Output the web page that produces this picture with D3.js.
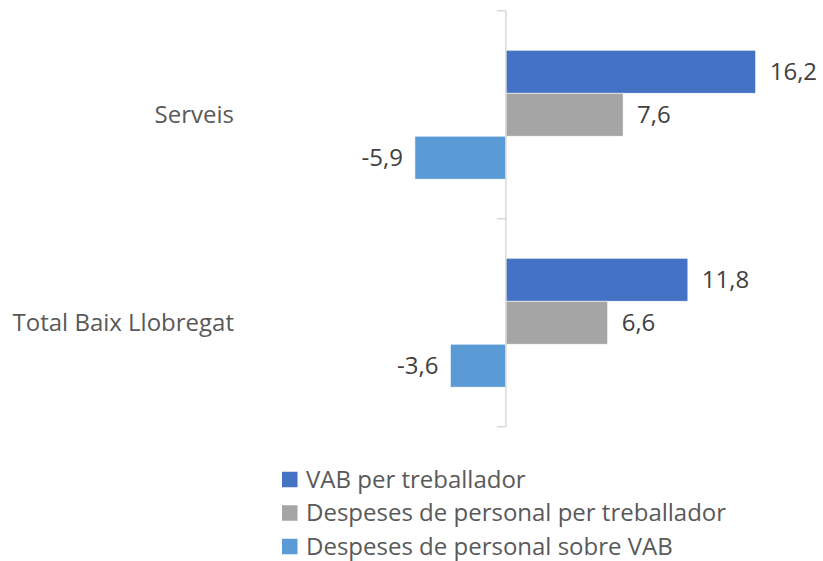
<!DOCTYPE html>
<html>
<head>
<meta charset="utf-8">
<script src="https://cdn.jsdelivr.net/npm/d3@7"></script>
<style>
  html, body { margin: 0; padding: 0; background: #fff; }
  svg { display: block; }
  text { font-family: "Open Sans", sans-serif; font-size: 24px; }
</style>
</head>
<body>
<svg id="chart" width="823" height="561"></svg>
<script>
// Categories and series
const categories = ["Serveis", "Total Baix Llobregat"];
const seriesNames = ["VAB per treballador", "Despeses de personal per treballador", "Despeses de personal sobre VAB"];
const vabPerWorker = [16.2, 11.8];
const staffCostPerWorker = [7.6, 6.6];
const staffCostOverVab = [-5.9, -3.6];
const seriesColors = ["#4472C4", "#A5A5A5", "#5B9BD5"];

const seriesValues = [vabPerWorker, staffCostPerWorker, staffCostOverVab];
const rows = [];
categories.forEach((c, ci) => {
  seriesNames.forEach((s, si) => {
    rows.push({ category: c, series: s, value: seriesValues[si][ci], color: seriesColors[si] });
  });
});

const locale = d3.formatLocale({ decimal: ",", thousands: ".", grouping: [3], currency: ["", " €"], minus: "-" });
const fmt = locale.format(".1f");

const svg = d3.select("#chart");

// Scales
const x = d3.scaleLinear().domain([-10, 20]).range([351.7, 814.3]);
const y0 = d3.scaleBand().domain(categories).range([10.7, 426.7]).padding(0);
const y1 = d3.scaleBand().domain(seriesNames).range([0, y0.bandwidth()]).paddingInner(0).paddingOuter(0.92);

// Bars
const groups = svg.append("g").selectAll("g")
  .data(categories)
  .join("g")
  .attr("transform", d => `translate(0,${y0(d)})`);

groups.selectAll("rect")
  .data(c => rows.filter(r => r.category === c))
  .join("rect")
  .attr("x", d => x(Math.min(0, d.value)))
  .attr("y", d => y1(d.series))
  .attr("width", d => Math.abs(x(d.value) - x(0)))
  .attr("height", y1.bandwidth())
  .attr("fill", d => d.color)
  .attr("stroke", "#fff")
  .attr("stroke-width", 0.6);

// Value labels
groups.selectAll("text.val")
  .data(c => rows.filter(r => r.category === c))
  .join("text")
  .attr("class", "val")
  .attr("x", d => d.value >= 0 ? x(d.value) + 14 : x(d.value) - 12)
  .attr("y", d => y1(d.series) + y1.bandwidth() / 2)
  .attr("dy", "0.35em")
  .attr("text-anchor", d => d.value >= 0 ? "start" : "end")
  .attr("fill", "#404040")
  .text(d => fmt(d.value));

// Category axis at zero
const axis = svg.append("g").attr("transform", `translate(${x(0)},0)`);
axis.append("line")
  .attr("x1", 0).attr("x2", 0)
  .attr("y1", y0.range()[0]).attr("y2", y0.range()[1])
  .attr("stroke", "#D9D9D9").attr("stroke-width", 1.5);
const tickPos = categories.map(c => y0(c)).concat([y0.range()[1]]);
axis.selectAll("line.tick")
  .data(tickPos)
  .join("line")
  .attr("class", "tick")
  .attr("x1", -9).attr("x2", 0)
  .attr("y1", d => d).attr("y2", d => d)
  .attr("stroke", "#D9D9D9").attr("stroke-width", 1.5);

// Category labels
svg.append("g").selectAll("text")
  .data(categories)
  .join("text")
  .attr("x", 234)
  .attr("y", d => y0(d) + y0.bandwidth() / 2)
  .attr("dy", "0.35em")
  .attr("text-anchor", "end")
  .attr("fill", "#595959")
  .text(d => d);

// Legend
const legend = svg.append("g").selectAll("g")
  .data(seriesNames)
  .join("g")
  .attr("transform", (d, i) => `translate(282,${479.5 + i * 33.5})`);
legend.append("rect")
  .attr("x", 0).attr("y", -7.75)
  .attr("width", 15.5).attr("height", 15.5)
  .attr("fill", (d, i) => seriesColors[i]);
legend.append("text")
  .attr("x", 24)
  .attr("y", 0)
  .attr("dy", "0.35em")
  .attr("fill", "#595959")
  .text(d => d);
</script>
</body>
</html>
